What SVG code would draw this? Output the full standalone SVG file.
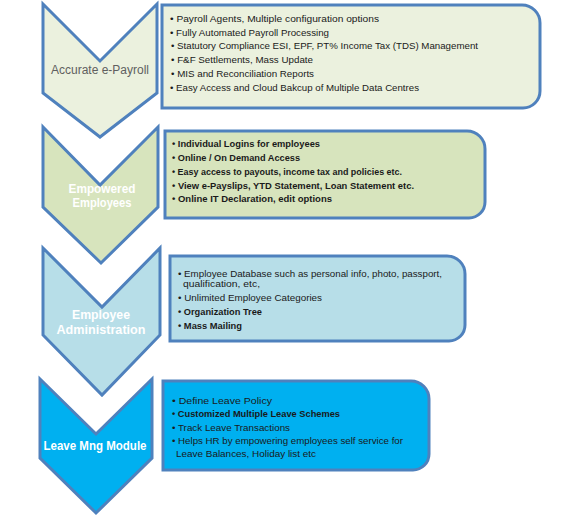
<svg xmlns="http://www.w3.org/2000/svg" width="564" height="518" viewBox="0 0 564 518">
<style>
.chev{stroke:#4f81bd;stroke-width:3;stroke-linejoin:miter}
.box{stroke:#4f81bd;stroke-width:3}
.t{font-family:"Liberation Sans",Arial,sans-serif;font-size:9.5px;fill:#1a1a1a}
.b{font-weight:bold}
.title{font-family:"Liberation Sans",Arial,sans-serif;font-weight:bold;font-size:12.5px;fill:#ffffff;text-anchor:middle}
.c1{fill:#ebf1de}
.c2{fill:#d7e4bd}
.c3{fill:#b7dee8}
.c4{fill:#00b0f0}
</style>
<rect width="564" height="518" fill="#ffffff"/>

<g id="node-payroll">
<polygon class="chev c1" points="43,4 100,61 157,4 157,93 100,137 43,93"/>
<text x="100" y="74" text-anchor="middle" font-family="Liberation Sans,Arial,sans-serif" font-size="12" fill="#5f5f5f" textLength="98" lengthAdjust="spacingAndGlyphs">Accurate e-Payroll</text>
</g>
<g id="node-payroll-details">
<path class="box c1" d="M162,5 H522 A18,18 0 0 1 540,23 V91 A17,17 0 0 1 523,108 H162 Z"/>
<text class="t" x="170" y="22" textLength="209" lengthAdjust="spacingAndGlyphs">• Payroll Agents, Multiple configuration options</text>
<text class="t" x="170" y="36" textLength="159" lengthAdjust="spacingAndGlyphs">• Fully Automated Payroll Processing</text>
<text class="t" x="171" y="49" textLength="307" lengthAdjust="spacingAndGlyphs">• Statutory Compliance ESI, EPF, PT% Income Tax (TDS) Management</text>
<text class="t" x="171" y="63" textLength="142" lengthAdjust="spacingAndGlyphs">• F&amp;F Settlements, Mass Update</text>
<text class="t" x="171" y="77" textLength="143" lengthAdjust="spacingAndGlyphs">• MIS and Reconciliation Reports</text>
<text class="t" x="170" y="91" textLength="249" lengthAdjust="spacingAndGlyphs">• Easy Access and Cloud Bakcup of Multiple Data Centres</text>
</g>

<g id="node-employees">
<polygon class="chev c2" points="43,127 100,185 158,127 158,207 101,263 43,207"/>
<text class="title" x="102" y="193" textLength="67" lengthAdjust="spacingAndGlyphs">Empowered</text>
<text class="title" x="102" y="207" textLength="59" lengthAdjust="spacingAndGlyphs">Employees</text>
</g>
<g id="node-employees-details">
<path class="box c2" d="M165,131 H467 A18,18 0 0 1 485,149 V202 A16,16 0 0 1 469,218 H165 Z"/>
<text class="t b" x="172" y="147" textLength="148" lengthAdjust="spacingAndGlyphs">• Individual Logins for employees</text>
<text class="t b" x="172" y="161" textLength="128" lengthAdjust="spacingAndGlyphs">• Online / On Demand Access</text>
<text class="t b" x="172" y="175" textLength="230" lengthAdjust="spacingAndGlyphs">• Easy access to payouts, income tax and policies etc.</text>
<text class="t b" x="172" y="189" textLength="242" lengthAdjust="spacingAndGlyphs">• View e-Payslips, YTD Statement, Loan Statement etc.</text>
<text class="t b" x="172" y="202" textLength="160" lengthAdjust="spacingAndGlyphs">• Online IT Declaration, edit options</text>
</g>

<g id="node-admin">
<polygon class="chev c3" points="43,248 102,307 160,248 160,335 102,395 43,335"/>
<text class="title" x="101" y="319" font-size="13.5" textLength="58" lengthAdjust="spacingAndGlyphs">Employee</text>
<text class="title" x="101" y="334" font-size="13.5" textLength="89" lengthAdjust="spacingAndGlyphs">Administration</text>
</g>
<g id="node-admin-details">
<path class="box c3" d="M170,256 H447 A18,18 0 0 1 465,274 V325 A16,16 0 0 1 449,341 H170 Z"/>
<text class="t" x="178" y="277" textLength="264" lengthAdjust="spacingAndGlyphs">• Employee Database such as personal info, photo, passport,</text>
<text class="t" x="183" y="287" textLength="77" lengthAdjust="spacingAndGlyphs">qualification, etc,</text>
<text class="t" x="178" y="301" textLength="144" lengthAdjust="spacingAndGlyphs">• Unlimited Employee Categories</text>
<text class="t b" x="178" y="315" textLength="84" lengthAdjust="spacingAndGlyphs">• Organization Tree</text>
<text class="t b" x="178" y="329" textLength="64" lengthAdjust="spacingAndGlyphs">• Mass Mailing</text>
</g>

<g id="node-leave">
<polygon class="chev c4" points="40,379 96,434 152,379 152,458 96,513 40,458"/>
<text class="title" x="95" y="450" textLength="103" lengthAdjust="spacingAndGlyphs">Leave Mng Module</text>
</g>
<g id="node-leave-details">
<path class="box c4" d="M163,381 H411 A18,18 0 0 1 429,399 V454 A16,16 0 0 1 413,470 H163 Z"/>
<text class="t" x="172" y="404" textLength="100" lengthAdjust="spacingAndGlyphs">• Define Leave Policy</text>
<text class="t b" x="172" y="417" textLength="168" lengthAdjust="spacingAndGlyphs">• Customized Multiple Leave Schemes</text>
<text class="t" x="172" y="431" textLength="118" lengthAdjust="spacingAndGlyphs">• Track Leave Transactions</text>
<text class="t" x="172" y="444" textLength="231" lengthAdjust="spacingAndGlyphs">• Helps HR by empowering employees self service for</text>
<text class="t" x="176" y="457" textLength="140" lengthAdjust="spacingAndGlyphs">Leave Balances, Holiday list etc</text>
</g>

<g id="connectors"/>
</svg>
